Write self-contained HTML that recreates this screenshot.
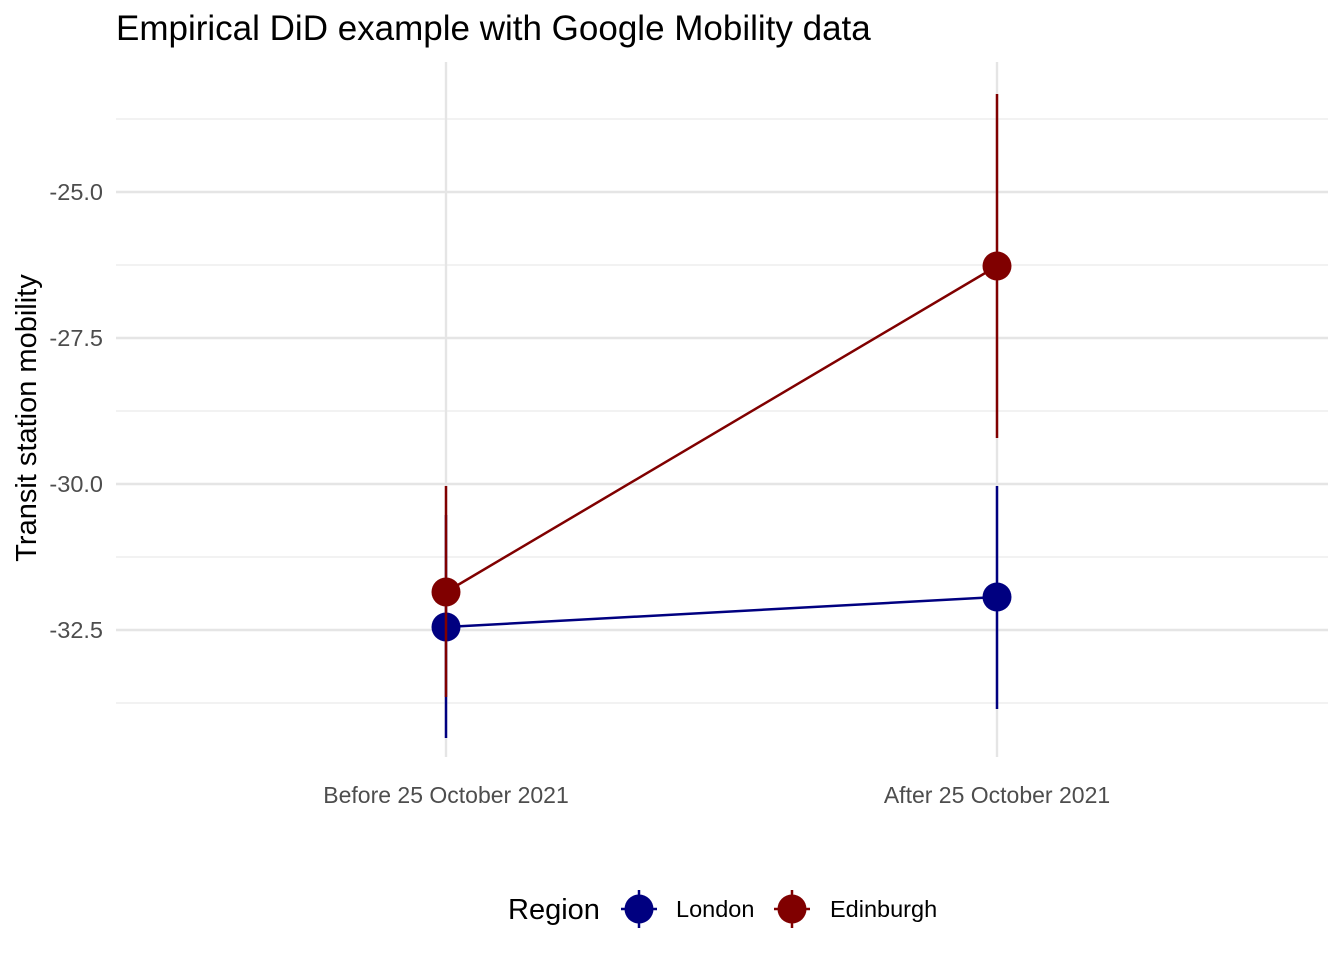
<!DOCTYPE html>
<html><head><style>body{margin:0;background:#fff}</style></head><body>
<svg width="1344" height="960" xmlns="http://www.w3.org/2000/svg" style="font-family:'Liberation Sans', Arial, sans-serif">
<rect width="1344" height="960" fill="#fff"/>
<g stroke="#ebebeb" stroke-width="1.2">
<line x1="116" x2="1328" y1="119" y2="119"/><line x1="116" x2="1328" y1="265" y2="265"/>
<line x1="116" x2="1328" y1="411" y2="411"/><line x1="116" x2="1328" y1="557" y2="557"/>
<line x1="116" x2="1328" y1="703" y2="703"/>
</g>
<g stroke="#e5e5e5" stroke-width="2.4">
<line x1="116" x2="1328" y1="192" y2="192"/><line x1="116" x2="1328" y1="338" y2="338"/>
<line x1="116" x2="1328" y1="484" y2="484"/><line x1="116" x2="1328" y1="630" y2="630"/>
<line x1="446" x2="446" y1="62" y2="757"/><line x1="997" x2="997" y1="62" y2="757"/>
</g>
<g fill="#4d4d4d" font-size="23.5" text-anchor="end">
<text x="103" y="200">-25.0</text><text x="103" y="346">-27.5</text>
<text x="103" y="492">-30.0</text><text x="103" y="638">-32.5</text>
</g>
<g fill="#4d4d4d" font-size="23" text-anchor="middle">
<text x="446" y="803">Before 25 October 2021</text><text x="997" y="803">After 25 October 2021</text>
</g>
<text x="36" y="418" font-size="29" text-anchor="middle" transform="rotate(-90 36 418)">Transit station mobility</text>
<text x="116" y="40" font-size="35">Empirical DiD example with Google Mobility data</text>
<g stroke="#000080" stroke-width="2.5" fill="#000080">
<line x1="446" x2="446" y1="515" y2="738"/><line x1="997" x2="997" y1="486" y2="709"/>
<line x1="446" y1="627" x2="997" y2="597"/>
<circle cx="446" cy="627" r="14.5" stroke="none"/><circle cx="997" cy="597" r="14.5" stroke="none"/>
</g>
<g stroke="#800000" stroke-width="2.5" fill="#800000">
<line x1="446" x2="446" y1="486" y2="697"/><line x1="997" x2="997" y1="94" y2="438"/>
<line x1="446" y1="592" x2="997" y2="266"/>
<circle cx="446" cy="592" r="14.5" stroke="none"/><circle cx="997" cy="266" r="14.5" stroke="none"/>
</g>
<text x="508" y="919" font-size="29">Region</text>
<g stroke="#000080" stroke-width="2.5" fill="#000080">
<line x1="639" x2="639" y1="890" y2="928"/><line x1="621" x2="657" y1="909" y2="909"/>
<circle cx="639" cy="909" r="14.5" stroke="none"/>
</g>
<text x="676" y="917" font-size="23.5">London</text>
<g stroke="#800000" stroke-width="2.5" fill="#800000">
<line x1="792" x2="792" y1="890" y2="928"/><line x1="774" x2="810" y1="909" y2="909"/>
<circle cx="792" cy="909" r="14.5" stroke="none"/>
</g>
<text x="830" y="917" font-size="23.5">Edinburgh</text>
</svg>
</body></html>
